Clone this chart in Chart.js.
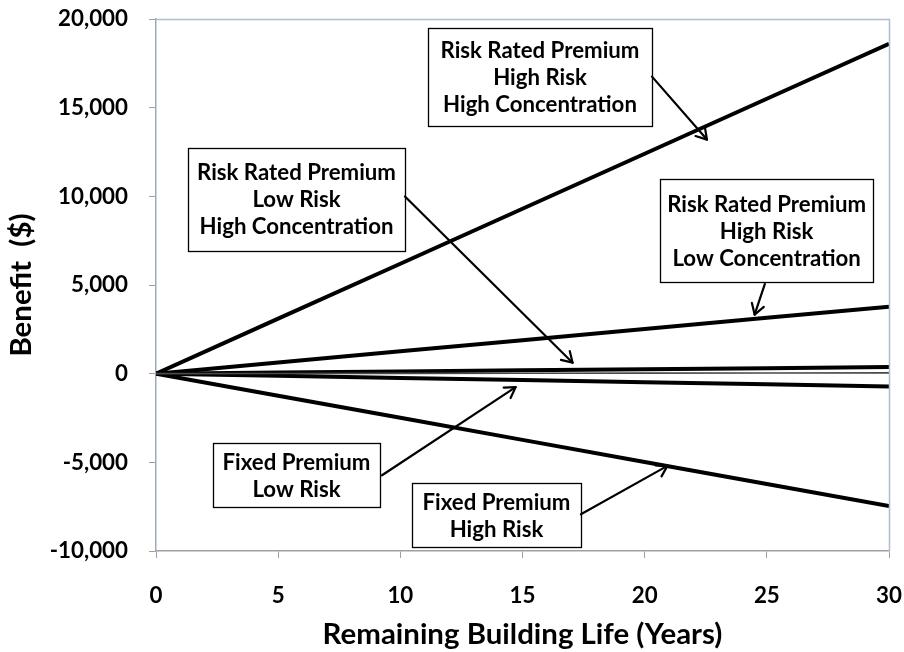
<!DOCTYPE html>
<html>
<head>
<meta charset="utf-8">
<script src="https://cdn.jsdelivr.net/npm/chart.js@4.4.1/dist/chart.umd.min.js"></script>
<style>
  html, body { margin: 0; padding: 0; background: #ffffff; }
  #wrap { width: 904px; height: 652px; }
</style>
</head>
<body>
<div id="wrap"><canvas id="c" width="904" height="652"></canvas></div>
<script>
// ---------------- DATA ----------------
const years = [0, 5, 10, 15, 20, 25, 30];
const rrHighRiskHighConc = [0, 3100, 6200, 9300, 12400, 15500, 18600];
const rrHighRiskLowConc  = [0, 630, 1260, 1890, 2520, 3150, 3780];
const rrLowRiskHighConc  = [0, 62, 124, 186, 248, 310, 372];
const rrLowRiskLowConc   = [0, 7, 14, 21, 28, 35, 42];
const fixedLowRisk       = [0, -120, -240, -360, -480, -600, -720];
const fixedHighRisk      = [0, -1245, -2490, -3735, -4980, -6225, -7470];
const yTickValues = [-10000, -5000, 0, 5000, 10000, 15000, 20000];
const xTickValues = [0, 5, 10, 15, 20, 25, 30];
const xTitle = 'Remaining Building Life (Years)';
const yTitle = 'Benefit  ($)';

// annotation text
const noteTexts = [
  ['Risk Rated Premium', 'High Risk', 'High Concentration'],
  ['Risk Rated Premium', 'Low Risk', 'High Concentration'],
  ['Risk Rated Premium', 'High Risk', 'Low Concentration'],
  ['Fixed Premium', 'Low Risk'],
  ['Fixed Premium', 'High Risk']
];
// annotation layout (in axis units: years, dollars)
const noteBoxes = [
  {x1: 11.13, x2: 20.30, y1: 19510, y2: 13990},
  {x1: 1.31,  x2: 10.19, y1: 12750, y2: 6950},
  {x1: 20.63, x2: 29.35, y1: 10950, y2: 5140},
  {x1: 2.33,  x2: 9.17,  y1: -3930, y2: -7530},
  {x1: 10.48, x2: 17.39, y1: -6160, y2: -9770}
];
const noteArrows = [
  {fx: 20.30, fy: 16750, tx: 22.55, ty: 13200},
  {fx: 10.19, fy: 9990,  tx: 17.05, ty: 620},
  {fx: 24.92, fy: 5060,  tx: 24.50, ty: 3330},
  {fx: 9.25,  fy: -5730, tx: 14.72, ty: -760},
  {fx: 17.39, fy: -7930, tx: 20.93, ty: -5200}
];

const FONT = 'Lato, "Open Sans", "DejaVu Sans", sans-serif';

// fit font sizes to the widths seen in the picture
const mctx = document.createElement('canvas').getContext('2d');
function fitSize(text, target) {
  mctx.font = 'bold 20px ' + FONT;
  return 20 * target / mctx.measureText(text).width;
}
const tickSize = fitSize('20,000', 70);
const titleSize = fitSize(xTitle, 400);
const noteSize = fitSize('Risk Rated Premium', 199);
const titleLH = titleSize * 1.2;

function series(vals) { return years.map((x, i) => ({x: x, y: vals[i]})); }

const frameAndNotes = {
  id: 'frameAndNotes',
  afterDatasetsDraw(chart) {
    const ctx = chart.ctx;
    const a = chart.chartArea;
    const xs = chart.scales.x, ys = chart.scales.y;
    ctx.save();
    // top / right frame
    ctx.strokeStyle = '#A7BFDE';
    ctx.lineWidth = 1.5;
    ctx.beginPath();
    ctx.moveTo(a.left, a.top + 0.5);
    ctx.lineTo(a.right + 0.5, a.top + 0.5);
    ctx.lineTo(a.right + 0.5, a.bottom);
    ctx.stroke();

    ctx.font = 'bold ' + noteSize.toFixed(2) + 'px ' + FONT;
    ctx.textAlign = 'center';
    ctx.textBaseline = 'middle';
    noteBoxes.forEach((b, i) => {
      const L = xs.getPixelForValue(b.x1), R = xs.getPixelForValue(b.x2);
      const T = ys.getPixelForValue(b.y1), B = ys.getPixelForValue(b.y2);
      ctx.fillStyle = '#ffffff';
      ctx.fillRect(L, T, R - L, B - T);
      ctx.strokeStyle = '#000000';
      ctx.lineWidth = 1.3;
      ctx.strokeRect(Math.round(L) + 0.5, Math.round(T) + 0.5, Math.round(R - L), Math.round(B - T));
      const lines = noteTexts[i];
      const lh = 27;
      const cy = (T + B) / 2;
      const cx = (L + R) / 2;
      ctx.fillStyle = '#000000';
      lines.forEach((t, k) => {
        ctx.fillText(t, cx, cy + (k - (lines.length - 1) / 2) * lh + 1);
      });
    });
    noteArrows.forEach(ar => {
      const x0 = xs.getPixelForValue(ar.fx), y0 = ys.getPixelForValue(ar.fy);
      const x1 = xs.getPixelForValue(ar.tx), y1 = ys.getPixelForValue(ar.ty);
      ctx.strokeStyle = '#000000';
      ctx.lineWidth = 2.2;
      ctx.lineCap = 'round';
      ctx.lineJoin = 'round';
      ctx.beginPath();
      ctx.moveTo(x0, y0);
      ctx.lineTo(x1, y1);
      ctx.stroke();
      const ang = Math.atan2(y1 - y0, x1 - x0);
      const hl = 12, ha = 0.55;
      ctx.beginPath();
      ctx.moveTo(x1 - hl * Math.cos(ang - ha), y1 - hl * Math.sin(ang - ha));
      ctx.lineTo(x1, y1);
      ctx.lineTo(x1 - hl * Math.cos(ang + ha), y1 - hl * Math.sin(ang + ha));
      ctx.stroke();
    });
    ctx.restore();
  }
};

const lineDs = (label, vals, width, color) => ({
  label: label,
  data: series(vals),
  borderColor: color,
  backgroundColor: color,
  borderWidth: width,
  pointRadius: 0,
  tension: 0,
  fill: false
});

new Chart(document.getElementById('c'), {
  type: 'line',
  data: {
    datasets: [
      lineDs('Risk Rated Premium, Low Risk, Low Concentration', rrLowRiskLowConc, 1.6, '#4a4a4a'),
      lineDs('Risk Rated Premium, High Risk, High Concentration', rrHighRiskHighConc, 4, '#000000'),
      lineDs('Risk Rated Premium, High Risk, Low Concentration', rrHighRiskLowConc, 4, '#000000'),
      lineDs('Risk Rated Premium, Low Risk, High Concentration', rrLowRiskHighConc, 4, '#000000'),
      lineDs('Fixed Premium, Low Risk', fixedLowRisk, 4, '#000000'),
      lineDs('Fixed Premium, High Risk', fixedHighRisk, 4, '#000000')
    ]
  },
  options: {
    responsive: false,
    animation: false,
    layout: { padding: { top: 19, right: 15, left: 0, bottom: 0 } },
    plugins: { legend: { display: false }, tooltip: { enabled: false } },
    scales: {
      x: {
        type: 'linear',
        min: 0, max: 30,
        afterBuildTicks: s => { s.ticks = xTickValues.map(v => ({value: v})); },
        afterFit: s => { s.height = 101; s.paddingLeft = 0; s.paddingRight = 0; },
        ticks: {
          color: '#000000',
          font: { family: FONT, size: tickSize, weight: 'bold' },
          padding: 24,
          maxRotation: 0
        },
        grid: { drawOnChartArea: false, drawTicks: true, tickLength: 7, color: '#A0A0A0', lineWidth: 1 },
        border: { display: true, color: '#A0A0A0', width: 1.5 },
        title: {
          display: true, text: xTitle, color: '#000000',
          font: { family: FONT, size: titleSize, weight: 'bold', lineHeight: 1.2 },
          padding: { top: 0, bottom: Math.max(0, 17 - titleLH / 2) }
        }
      },
      y: {
        type: 'linear',
        min: -10000, max: 20000,
        afterBuildTicks: s => { s.ticks = yTickValues.map(v => ({value: v})); },
        afterFit: s => { s.width = 156; s.paddingTop = 0; s.paddingBottom = 0; },
        ticks: {
          color: '#000000',
          font: { family: FONT, size: tickSize, weight: 'bold' },
          padding: 21,
          callback: v => v.toLocaleString('en-US')
        },
        grid: { drawOnChartArea: false, drawTicks: true, tickLength: 7, color: '#A0A0A0', lineWidth: 1 },
        border: { display: true, color: '#9AAAC4', width: 1.5 },
        title: {
          display: true, text: yTitle, color: '#000000',
          font: { family: FONT, size: titleSize, weight: 'bold', lineHeight: 1.2 },
          padding: { top: Math.max(0, 22 - titleLH / 2), bottom: 0 }
        }
      }
    }
  },
  plugins: [frameAndNotes]
});
</script>
</body>
</html>
